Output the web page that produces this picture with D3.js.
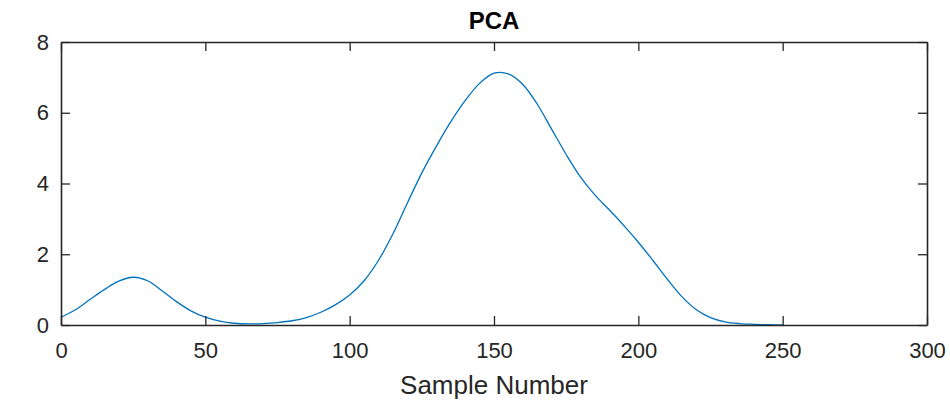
<!DOCTYPE html>
<html>
<head>
<meta charset="utf-8">
<script src="https://cdn.jsdelivr.net/npm/d3@7"></script>
<style>
  html, body { margin: 0; padding: 0; background: #fff; }
  svg { display: block; font-family: "Liberation Sans", Arial, Helvetica, sans-serif; }
</style>
</head>
<body>
<svg id="chart" width="950" height="403"></svg>
<script>
// Sample numbers (every 5th sample) and the PCA statistic at each one
const sampleNumber = [0, 5, 10, 15, 20, 25, 30, 35, 40, 45, 50, 55, 60, 65, 70, 75, 80, 85, 90, 95,
  100, 105, 110, 115, 120, 125, 130, 135, 140, 145, 150, 155, 160, 165, 170, 175, 180, 185, 190, 195,
  200, 205, 210, 215, 220, 225, 230, 235, 240, 245, 250];
const pcaValue = [0.22, 0.43, 0.72, 1.0, 1.24, 1.35, 1.25, 0.97, 0.66, 0.4, 0.22, 0.11, 0.05, 0.03, 0.04, 0.07, 0.12, 0.21, 0.36, 0.57,
  0.85, 1.25, 1.83, 2.58, 3.45, 4.3, 5.05, 5.74, 6.34, 6.83, 7.12, 7.1, 6.8, 6.24, 5.53, 4.82, 4.18, 3.67, 3.25, 2.81,
  2.34, 1.83, 1.3, 0.81, 0.44, 0.21, 0.09, 0.04, 0.02, 0.01, 0.0];
const xTicks = [0, 50, 100, 150, 200, 250, 300];
const yTicks = [0, 2, 4, 6, 8];
const titleText = "PCA";
const xLabelText = "Sample Number";

const svg = d3.select("#chart");
const plotLeft = 61, plotRight = 927, plotTop = 42, plotBottom = 325;
const axisColor = "#262626";

const x = d3.scaleLinear().domain([0, 300]).range([plotLeft, plotRight]);
const y = d3.scaleLinear().domain([0, 8]).range([plotBottom, plotTop]);

// Data line
const line = d3.line()
  .x((d, i) => x(sampleNumber[i]))
  .y(d => y(d))
  .curve(d3.curveCatmullRom.alpha(0.5));

svg.append("path")
  .datum(pcaValue)
  .attr("d", line)
  .attr("fill", "none")
  .attr("stroke", "#0072BD")
  .attr("stroke-width", 1.3);

// Axes with inward ticks on all four sides (boxed axes)
const tickLen = 9;
const styleAxis = g => {
  g.select(".domain").attr("stroke", axisColor).attr("stroke-width", 1.6);
  g.selectAll(".tick line").attr("stroke", axisColor).attr("stroke-width", 1.3);
  g.selectAll(".tick text").attr("fill", axisColor);
};

svg.append("g")
  .attr("transform", `translate(0,${plotBottom})`)
  .call(d3.axisBottom(x).tickValues(xTicks).tickSizeInner(-tickLen).tickSizeOuter(0).tickPadding(17).tickFormat(d3.format("d")))
  .call(styleAxis)
  .call(g => g.selectAll(".tick text").attr("font-size", 22).attr("font-family", "Liberation Sans, Arial, sans-serif"));

svg.append("g")
  .attr("transform", `translate(0,${plotTop})`)
  .call(d3.axisTop(x).tickValues(xTicks).tickSizeInner(-tickLen).tickSizeOuter(0).tickFormat(""))
  .call(styleAxis);

svg.append("g")
  .attr("transform", `translate(${plotLeft},0)`)
  .call(d3.axisLeft(y).tickValues(yTicks).tickSizeInner(-tickLen).tickSizeOuter(0).tickPadding(12).tickFormat(d3.format("d")))
  .call(styleAxis)
  .call(g => g.selectAll(".tick text").attr("font-size", 22).attr("font-family", "Liberation Sans, Arial, sans-serif"));

svg.append("g")
  .attr("transform", `translate(${plotRight},0)`)
  .call(d3.axisRight(y).tickValues(yTicks).tickSizeInner(-tickLen).tickSizeOuter(0).tickFormat(""))
  .call(styleAxis);

// Title and axis label
svg.append("text")
  .attr("x", (plotLeft + plotRight) / 2)
  .attr("y", 29)
  .attr("text-anchor", "middle")
  .attr("font-size", 24)
  .attr("font-weight", "bold")
  .attr("fill", "#000")
  .text(titleText);

svg.append("text")
  .attr("x", (plotLeft + plotRight) / 2)
  .attr("y", 394)
  .attr("text-anchor", "middle")
  .attr("font-size", 26)
  .attr("fill", axisColor)
  .text(xLabelText);
</script>
</body>
</html>
